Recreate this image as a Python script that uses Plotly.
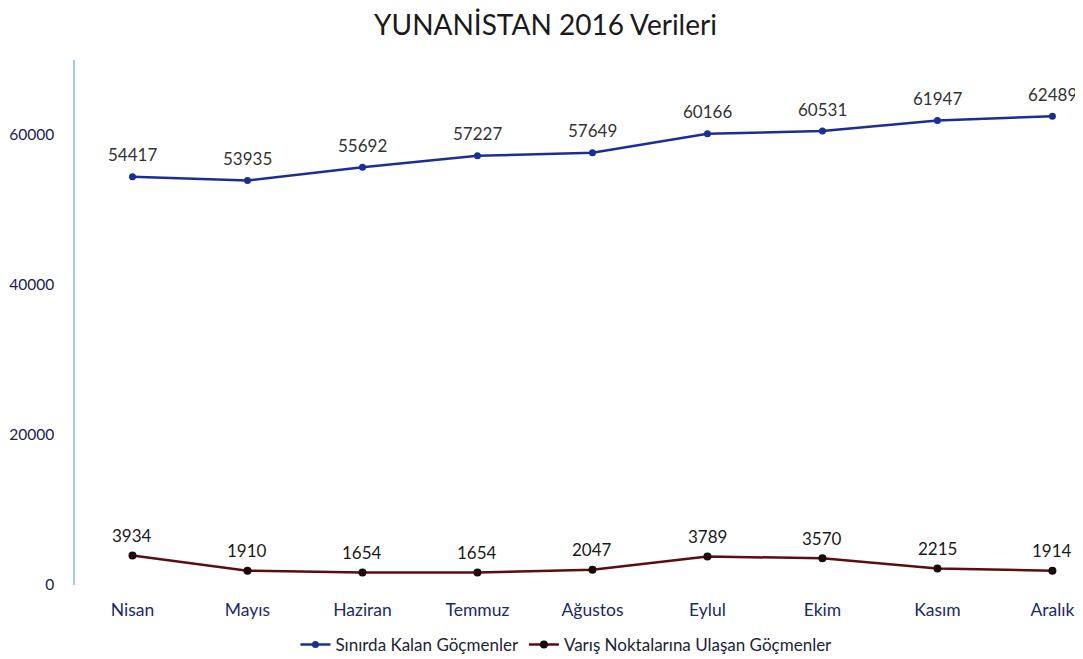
import plotly.graph_objects as go

months = ["Nisan", "Mayıs", "Haziran", "Temmuz", "Ağustos", "Eylul", "Ekim", "Kasım", "Aralık"]
sinirda = [54417, 53935, 55692, 57227, 57649, 60166, 60531, 61947, 62489]
varis = [3934, 1910, 1654, 1654, 2047, 3789, 3570, 2215, 1914]
y_ticks = [0, 20000, 40000, 60000]
y_tick_text = ["0", "20000", "40000", "60000"]

font_family = "Lato, 'Open Sans', sans-serif"

fig = go.Figure()
fig.add_trace(go.Scatter(
    x=months, y=sinirda, name="Sınırda Kalan Göçmenler",
    mode="lines+markers", cliponaxis=False,
    line=dict(color="#1a2f96", width=2.5),
    marker=dict(color="#1a2f96", size=7),
))
fig.add_trace(go.Scatter(
    x=months, y=varis, name="Varış Noktalarına Ulaşan Göçmenler",
    mode="lines+markers", cliponaxis=False,
    line=dict(color="#5a0d12", width=2.5),
    marker=dict(color="#1a0a0a", size=8),
))

annotations = []
for m, v in zip(months, sinirda):
    annotations.append(dict(x=m, y=v, xref="x", yref="y", text=str(v), showarrow=False,
                            yshift=22, yanchor="middle",
                            font=dict(size=17, color="#333333", family=font_family)))
for m, v in zip(months, varis):
    annotations.append(dict(x=m, y=v, xref="x", yref="y", text=str(v), showarrow=False,
                            yshift=20, yanchor="middle",
                            font=dict(size=17, color="#1a1a1a", family=font_family)))

fig.update_layout(
    width=1075, height=651,
    paper_bgcolor="white", plot_bgcolor="white",
    margin=dict(l=67, r=3, t=52, b=74, autoexpand=False),
    title=dict(text="YUNANİSTAN 2016 Verileri", x=0.5, xanchor="center",
               y=0.974, yanchor="middle",
               font=dict(size=28, color="#1a1a1a", family=font_family)),
    font=dict(family=font_family),
    showlegend=True,
    annotations=annotations,
    legend=dict(orientation="h", x=0.489, xanchor="center", y=-0.114, yanchor="middle",
                font=dict(size=17, color="#1a1f3a", family=font_family),
                traceorder="normal"),
    xaxis=dict(type="category", range=[-0.5, 8.24], showgrid=False, zeroline=False,
               showline=False, ticks="", ticklabelstandoff=12, automargin=False,
               tickfont=dict(size=17.5, color="#1a2a6a", family=font_family)),
    yaxis=dict(range=[0, 70000], tickvals=y_ticks, ticktext=y_tick_text,
               showgrid=False, zeroline=False, automargin=False,
               showline=True, linecolor="#a9c4ea", linewidth=1.5, ticks="",
               ticklabelstandoff=16,
               tickfont=dict(size=15.5, color="#1a2050", family=font_family)),
)

fig.write_html("out.html")
